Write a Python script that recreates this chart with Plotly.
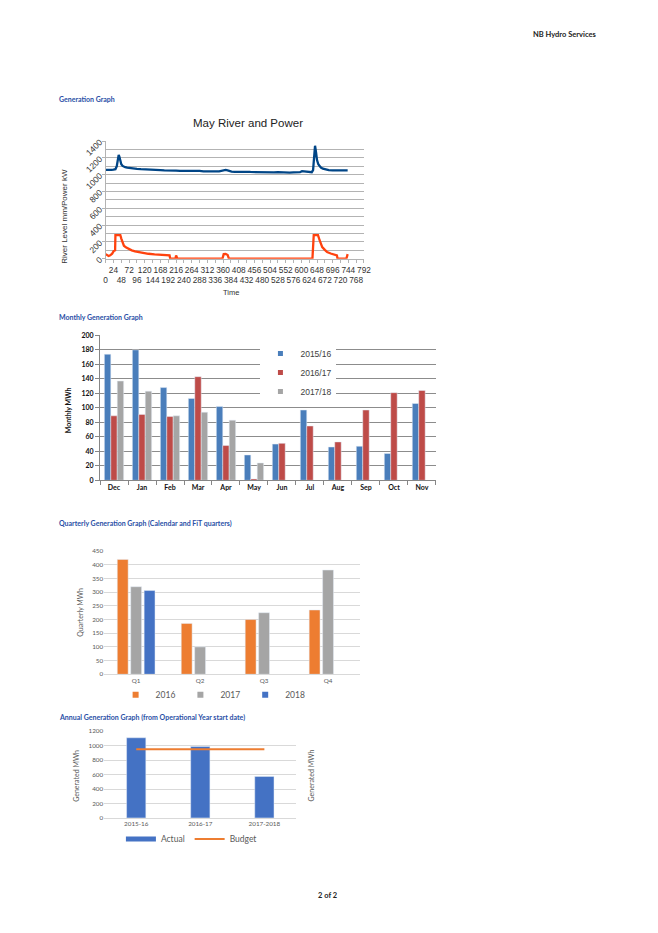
import plotly.graph_objects as go

# ---------------- data ----------------
# Chart 1: May river level (mm) and power (kW) against time (hours)
time_river = [0, 6, 12, 18, 24, 30, 34, 37, 40, 42, 45, 48, 52, 56, 60, 66, 72, 84, 96, 108,
              120, 132, 144, 156, 168, 180, 192, 204, 216, 228, 240, 252, 264, 276, 288, 300,
              312, 324, 336, 348, 356, 362, 368, 374, 380, 386, 396, 408, 420, 432, 444, 456,
              468, 480, 492, 504, 516, 528, 540, 552, 564, 576, 588, 596, 602, 608, 614, 620,
              626, 632, 636, 639, 642, 645, 648, 652, 656, 660, 666, 672, 684, 696, 708, 720,
              732, 742]
river_level = [1058, 1056, 1060, 1058, 1060, 1066, 1100, 1190, 1236, 1215, 1160, 1125, 1105, 1095,
               1090, 1084, 1080, 1074, 1070, 1066, 1062, 1060, 1058, 1055, 1054, 1052, 1053, 1050,
               1049, 1046, 1047, 1043, 1041, 1044, 1045, 1041, 1043, 1039, 1041, 1040, 1045, 1055,
               1057, 1052, 1042, 1037, 1035, 1037, 1033, 1035, 1033, 1031, 1033, 1031, 1029, 1031,
               1028, 1030, 1027, 1029, 1026, 1028, 1024, 1030, 1042, 1038, 1034, 1036, 1026, 1030,
               1055, 1190, 1345, 1270, 1175, 1125, 1100, 1085, 1072, 1064, 1056, 1053, 1051, 1050,
               1051, 1052]
time_power = [0, 4, 9, 14, 20, 25, 29, 30, 45, 48, 52, 56, 62, 70, 80, 90, 100, 115, 131, 150,
              171, 185, 196, 198, 214, 216, 220, 358, 362, 368, 374, 378, 634, 638, 651, 656,
              664, 672, 679, 690, 699, 709, 711, 738, 742]
power_kw = [55, 45, 32, 40, 60, 92, 100, 282, 282, 240, 190, 155, 135, 118, 100, 88, 79, 68, 59, 52,
            47, 42, 39, 0, 0, 40, 0, 0, 55, 58, 45, 0, 0, 282, 282, 220,
            138, 105, 79, 62, 55, 40, 0, 0, 55]
time_tick_values = list(range(0, 793, 24))

# Chart 2: monthly generation (MWh)
months = ["Dec", "Jan", "Feb", "Mar", "Apr", "May", "Jun", "Jul", "Aug", "Sep", "Oct", "Nov"]
gen_2015_16 = [174, 180, 128, 113, 102, 35, 50, 97, 46, 47, 37, 106]
gen_2016_17 = [89, 91, 88, 143, 48, 2, 51, 75, 53, 97, 121, 124]
gen_2017_18 = [137, 123, 89, 94, 83, 24, None, None, None, None, None, None]

# Chart 3: quarterly generation (MWh)
quarters = ["Q1", "Q2", "Q3", "Q4"]
q_2016 = [420, 186, 200, 235]
q_2017 = [320, 100, 225, 381]
q_2018 = [306, None, None, None]

# Chart 4: annual generation (MWh)
op_years = ["2015-16", "2016-17", "2017-2018"]
annual_actual = [1110, 990, 575]
annual_budget = [950, 950, 950]

# ---------------- page geometry ----------------
W, H, OFF = 642, 917, 8


def fx(p):
    return (p - OFF) / W


def fy(p):
    return 1 - (p - OFF) / H


BLUE_LO = "#004586"
ORANGE_LO = "#ff420e"
C15, C16, C17 = "#4a7ebb", "#be4b48", "#a5a5a5"
O_ORANGE, O_GRAY, O_BLUE = "#ed7d31", "#a5a5a5", "#4472c4"
HEAD = "#2a4fa6"
LIB = "Liberation Sans, Arial, sans-serif"
LATO = "Lato, Open Sans, sans-serif"

fig = go.Figure()

# Chart 1 lines
fig.add_trace(go.Scatter(x=time_river, y=river_level, mode="lines", name="River Level",
                         line=dict(color=BLUE_LO, width=2.3), showlegend=False,
                         xaxis="x", yaxis="y"))
fig.add_trace(go.Scatter(x=time_power, y=power_kw, mode="lines", name="Power",
                         line=dict(color=ORANGE_LO, width=2.3), showlegend=False,
                         xaxis="x", yaxis="y"))

# Chart 2 bars
bw2 = 0.23
for vals, name, col, off in [(gen_2015_16, "2015/16", C15, -0.345),
                             (gen_2016_17, "2016/17", C16, -0.115),
                             (gen_2017_18, "2017/18", C17, 0.115)]:
    fig.add_trace(go.Bar(x=months, y=vals, name=name, marker_color=col, width=bw2, offset=off,
                         showlegend=False, legendgroup=name, xaxis="x2", yaxis="y2"))
    fig.add_trace(go.Scatter(x=[None], y=[None], mode="markers", name=name, legendgroup=name,
                             marker=dict(symbol="square", size=5, color=col),
                             legend="legend", xaxis="x2", yaxis="y2"))

# Chart 3 bars
bw3 = 0.17
for vals, name, col, off in [(q_2016, "2016", O_ORANGE, -0.295),
                             (q_2017, "2017", O_GRAY, -0.085),
                             (q_2018, "2018", O_BLUE, 0.125)]:
    fig.add_trace(go.Bar(x=quarters, y=vals, name=name, marker_color=col, width=bw3, offset=off,
                         showlegend=False, legendgroup="q" + name, xaxis="x3", yaxis="y3"))
    fig.add_trace(go.Scatter(x=[None], y=[None], mode="markers", name=name, legendgroup="q" + name,
                             marker=dict(symbol="square", size=6, color=col),
                             legend="legend2", xaxis="x3", yaxis="y3"))

# Chart 4
fig.add_trace(go.Bar(x=op_years, y=annual_actual, name="Actual", marker_color=O_BLUE,
                     width=0.3, offset=-0.15, showlegend=False, legendgroup="act",
                     xaxis="x4", yaxis="y4"))
fig.add_trace(go.Scatter(x=[None], y=[None], mode="lines", name="Actual", legendgroup="act",
                         line=dict(color=O_BLUE, width=5), legend="legend3",
                         xaxis="x4", yaxis="y4"))
fig.add_trace(go.Scatter(x=op_years, y=annual_budget, mode="lines", name="Budget",
                         line=dict(color=O_ORANGE, width=2), legend="legend3",
                         xaxis="x4", yaxis="y4"))

grid1 = "#b3b3b3"
fig.update_layout(
    width=W, height=H,
    margin=dict(l=0, r=0, t=0, b=0),
    paper_bgcolor="white", plot_bgcolor="white",
    barmode="overlay",
    font=dict(family=LIB, size=8, color="#333333"),
    title=dict(text="May River and Power", x=fx(248), y=fy(123), xanchor="center",
               yanchor="middle", font=dict(family=LIB, size=11.5, color="#222222")),
    xaxis=dict(domain=[fx(105), fx(367)], anchor="y", range=[0, 792],
               tickvals=time_tick_values,
               ticktext=[("<br>" + str(v)) if v % 48 == 0 else str(v) for v in time_tick_values],
               tickangle=0, ticks="outside", ticklen=3, tickcolor=grid1,
               showline=True, linecolor=grid1, showgrid=False, zeroline=False,
               tickfont=dict(family=LIB, size=8.3, color="#333333")),
    yaxis=dict(domain=[fy(256.7), fy(137.7)], anchor="x", range=[0, 1400], dtick=200,
               tickangle=-45, gridcolor=grid1, gridwidth=0.8,
               minor=dict(dtick=100, showgrid=True, gridcolor=grid1, gridwidth=0.8),
               showline=True, linecolor=grid1, ticks="outside", ticklen=3, tickcolor=grid1,
               zeroline=False, tickfont=dict(family=LIB, size=8.5, color="#333333")),
    xaxis2=dict(domain=[fx(99.3), fx(440)], anchor="y2", type="category",
                categoryorder="array", categoryarray=months, range=[-0.5, 11.5],
                tickson="boundaries", ticks="outside", ticklen=4, tickcolor="#868686",
                showline=True, linecolor="#868686", showgrid=False, tickangle=0,
                tickfont=dict(family=LATO, size=7, color="#111111", weight="bold")),
    yaxis2=dict(domain=[fy(481), fy(334.3)], anchor="x2", range=[0, 200], dtick=20,
                gridcolor="#8c8c8c", gridwidth=0.8, showline=True, linecolor="#868686",
                ticks="outside", ticklen=4, tickcolor="#868686", zeroline=False,
                tickfont=dict(family=LATO, size=7, color="#111111", weight="bold")),
    xaxis3=dict(domain=[fx(103.5), fx(363)], anchor="y3", type="category",
                categoryorder="array", categoryarray=quarters, range=[-0.5, 3.5],
                showline=True, linecolor="#d9d9d9", ticks="", showgrid=False, tickangle=0,
                tickfont=dict(family=LATO, size=6.3, color="#595959")),
    yaxis3=dict(domain=[fy(677.3), fy(552.7)], anchor="x3", range=[0, 450], dtick=50,
                gridcolor="#d9d9d9", gridwidth=0.8, showline=False, zeroline=False,
                tickfont=dict(family=LATO, size=6.3, color="#595959")),
    xaxis4=dict(domain=[fx(103.5), fx(298.5)], anchor="y4", type="category",
                categoryorder="array", categoryarray=op_years, range=[-0.5, 2.5],
                showline=True, linecolor="#d9d9d9", ticks="", showgrid=False, tickangle=0,
                tickfont=dict(family=LATO, size=6.3, color="#595959")),
    yaxis4=dict(domain=[fy(822.7), fy(735)], anchor="x4", range=[0, 1200], dtick=200,
                gridcolor="#d9d9d9", gridwidth=0.8, showline=False, zeroline=False,
                tickfont=dict(family=LATO, size=6.3, color="#595959")),
    legend=dict(x=fx(262), y=fy(338), xanchor="left", yanchor="top", bgcolor="white",
                font=dict(family=LIB, size=8.5, color="#404040"), orientation="v",
                itemwidth=30, tracegroupgap=0),
    legend2=dict(x=fx(214), y=fy(698), xanchor="center", yanchor="middle", orientation="h",
                 bgcolor="rgba(0,0,0,0)", font=dict(family=LATO, size=8.5, color="#595959"),
                 itemwidth=30),
    legend3=dict(x=fx(192), y=fy(844), xanchor="center", yanchor="middle", orientation="h",
                 bgcolor="rgba(0,0,0,0)", font=dict(family=LATO, size=8.5, color="#595959"),
                 itemwidth=30),
)

ann = []


def text(x, y, s, size, color, family, xanchor="left", weight="normal", angle=0):
    ann.append(dict(x=fx(x), y=fy(y), xref="paper", yref="paper", text=s, showarrow=False,
                    xanchor=xanchor, yanchor="middle", textangle=angle,
                    font=dict(size=size, color=color, family=family, weight=weight)))


text(604, 30, "NB Hydro Services", 7.5, "#222222", LATO, xanchor="right", weight="bold")
text(56, 95, "Generation Graph", 7, HEAD, LATO, weight="bold")
text(56, 316, "Monthly Generation Graph", 7, HEAD, LATO, weight="bold")
text(56, 525, "Quarterly Generation Graph (Calendar and FiT quarters)", 7, HEAD, LATO, weight="bold")
text(56, 721, "Annual Generation Graph (from Operational Year start date)", 7, HEAD, LATO, weight="bold")
text(330, 901, "2 of 2", 7.5, "#222222", LATO, xanchor="center", weight="bold")
# axis titles
text(63, 214, "River Level mm/Power kW", 8, "#333333", LIB, xanchor="center", angle=-90)
text(232, 291, "Time", 7.5, "#333333", LIB, xanchor="center")
text(67, 410, "Monthly MWh", 7, "#111111", LATO, xanchor="center", weight="bold", angle=-90)
text(79, 615, "Quarterly MWh", 7, "#595959", LATO, xanchor="center", angle=-90)
text(75, 780, "Generated MWh", 7, "#595959", LATO, xanchor="center", angle=-90)
text(313, 780, "Generated MWh", 7, "#595959", LATO, xanchor="center", angle=-90)

fig.update_layout(annotations=ann)

fig.write_html("out.html")
